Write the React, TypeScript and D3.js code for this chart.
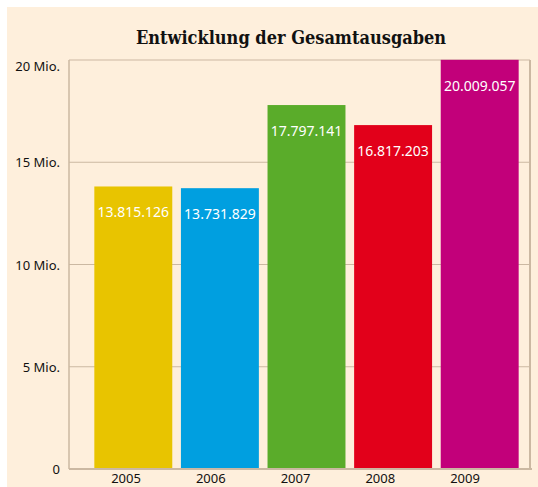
import React from "react";
import * as d3 from "d3";

const years = ["2005", "2006", "2007", "2008", "2009"];
const values = [13815126, 13731829, 17797141, 16817203, 20009057];
const colors = ["#E8C400", "#009FE0", "#5AAC2A", "#E2001A", "#C2007A"];
const yTicks = [0, 5000000, 10000000, 15000000, 20000000];
const yTickLabels = ["0", "5 Mio.", "10 Mio.", "15 Mio.", "20 Mio."];
const title = "Entwicklung der Gesamtausgaben";

const W = 538;
const H = 487;
const plot = { left: 69, right: 530, top: 60, bottom: 469 };

export default function App() {
  const x = d3
    .scaleBand<string>()
    .domain(years)
    .range([90, 523])
    .paddingInner(0.1)
    .paddingOuter(0.05);
  const xl = d3.scalePoint<string>().domain(years).range([126, 465]);
  const y = d3.scaleLinear().domain([0, 20000000]).range([plot.bottom, plot.top]);
  const fmt = (v: number) => d3.format(",")(v).replace(/,/g, ".");
  const line = "#CBB8A2";
  return (
    <svg
      width={W}
      height={H}
      style={{ position: "absolute", left: 0, top: 0, display: "block" }}
    >
      <rect x={0} y={0} width={W} height={H} fill="#ffffff" />
      <rect x={7} y={7} width={W - 7} height={H - 7} fill="#FEEFDC" />
      <text
        x={291}
        y={44}
        textAnchor="middle"
        fontFamily="'DejaVu Serif Condensed', 'DejaVu Serif', serif"
        fontWeight="bold"
        fontSize={18}
        fill="#111"
      >
        {title}
      </text>
      {yTicks.map((t, i) => (
        <g key={t}>
          <line
            x1={plot.left}
            x2={plot.right}
            y1={y(t)}
            y2={y(t)}
            stroke={line}
            strokeWidth={1.2}
          />
          <text
            x={60}
            y={y(t) + (i === yTicks.length - 1 ? 11 : 5)}
            textAnchor="end"
            fontFamily="'Noto Sans', sans-serif"
            fontSize={13}
            fill="#111"
          >
            {yTickLabels[i]}
          </text>
        </g>
      ))}
      <line x1={plot.left} x2={plot.left} y1={plot.top} y2={plot.bottom} stroke={line} strokeWidth={1.5} />
      <line x1={plot.right} x2={plot.right} y1={plot.top} y2={plot.bottom} stroke={line} strokeWidth={2} />
      <line x1={plot.left} x2={plot.right + 2} y1={plot.bottom} y2={plot.bottom} stroke={line} strokeWidth={2} />
      {years.map((yr, i) => (
        <g key={yr}>
          <rect
            x={x(yr)}
            y={y(values[i])}
            width={x.bandwidth()}
            height={y(0) - y(values[i]) - 1}
            fill={colors[i]}
          />
          <text
            x={(x(yr) as number) + x.bandwidth() / 2}
            y={y(values[i]) + 31}
            textAnchor="middle"
            fontFamily="'Noto Sans', sans-serif"
            fontSize={14}
            fill="#ffffff"
          >
            {fmt(values[i])}
          </text>
          <text
            x={xl(yr)}
            y={483}
            textAnchor="middle"
            fontFamily="'Noto Sans', sans-serif"
            fontSize={13}
            fill="#111"
          >
            {yr}
          </text>
        </g>
      ))}
    </svg>
  );
}
